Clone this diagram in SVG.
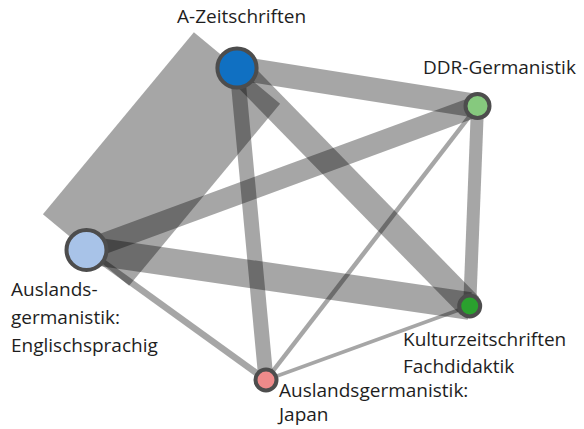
<svg xmlns="http://www.w3.org/2000/svg" width="584" height="429" viewBox="0 0 584 429">
<style>
.e{stroke:#000;stroke-opacity:0.35;stroke-linecap:butt;fill:none}
.n{stroke:#4d4d4d;stroke-width:4}
.t{font-family:"Open Sans","Liberation Sans",sans-serif;font-size:19px;fill:#1e1e1e}
</style>
<rect width="584" height="429" fill="#ffffff"/>
<g id="connectors">
<line class="e" x1="237" y1="68" x2="86" y2="250" stroke-width="112"/>
<line class="e" x1="237" y1="68" x2="477.5" y2="106" stroke-width="24"/>
<line class="e" x1="237" y1="68" x2="469.7" y2="306" stroke-width="26"/>
<line class="e" x1="237" y1="68" x2="266" y2="380" stroke-width="15"/>
<line class="e" x1="86" y1="250" x2="477.5" y2="106" stroke-width="21"/>
<line class="e" x1="86" y1="250" x2="469.7" y2="306" stroke-width="28"/>
<line class="e" x1="86" y1="250" x2="266" y2="380" stroke-width="6.5"/>
<line class="e" x1="477.5" y1="106" x2="469.7" y2="306" stroke-width="13"/>
<line class="e" x1="477.5" y1="106" x2="266" y2="380" stroke-width="4.5"/>
<line class="e" x1="469.7" y1="306" x2="266" y2="380" stroke-width="3.5"/>
</g>
<g id="node-a-zeitschriften">
<circle class="n" cx="237" cy="68" r="19.6" fill="#1070c2" stroke-width="4.4"/>
<text class="t" x="177" y="23">A-Zeitschriften</text>
</g>
<g id="node-ddr-germanistik">
<circle class="n" cx="477.5" cy="106" r="12" fill="#86c97e"/>
<text class="t" x="423" y="74">DDR-Germanistik</text>
</g>
<g id="node-auslandsgermanistik-englisch">
<circle class="n" cx="86.5" cy="250" r="20" fill="#a8c3e8" stroke-width="4.2"/>
<text class="t" x="11" y="296">Auslands-</text>
<text class="t" x="11" y="324">germanistik:</text>
<text class="t" x="11" y="352">Englischsprachig</text>
</g>
<g id="node-kulturzeitschriften">
<circle class="n" cx="469.7" cy="306" r="10.5" fill="#2aa12e"/>
<text class="t" x="403" y="346">Kulturzeitschriften</text>
<text class="t" x="403" y="373">Fachdidaktik</text>
</g>
<g id="node-auslandsgermanistik-japan">
<circle class="n" cx="266" cy="380" r="10.5" fill="#ee8a8a"/>
<text class="t" x="279" y="397">Auslandsgermanistik:</text>
<text class="t" x="279" y="421">Japan</text>
</g>
</svg>
